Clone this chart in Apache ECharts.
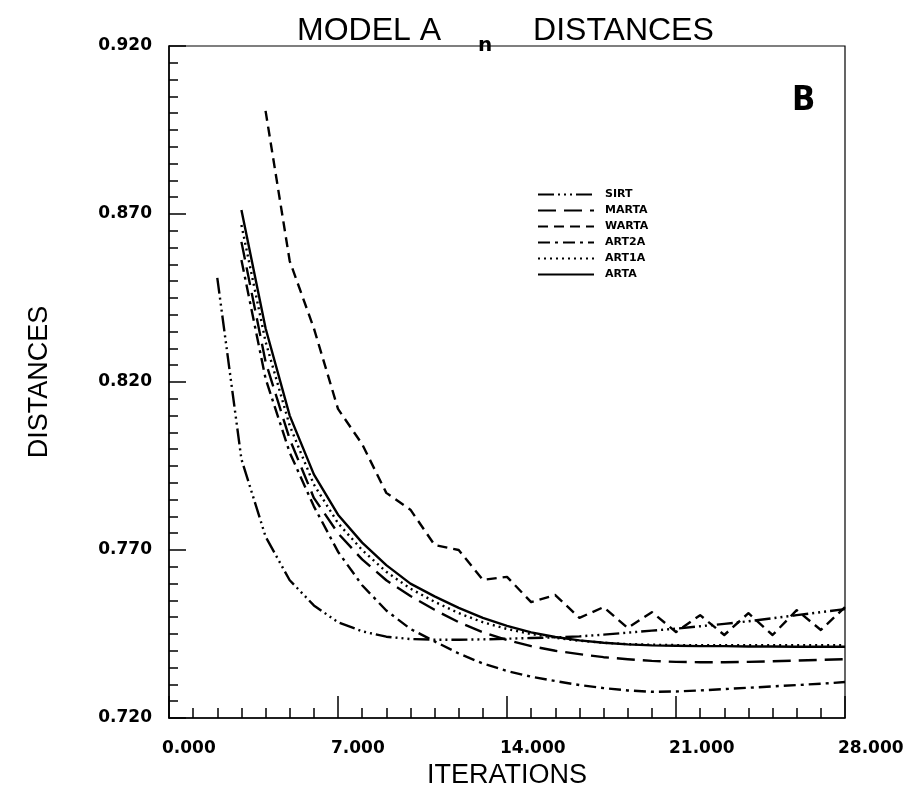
<!DOCTYPE html>
<html>
<head>
<meta charset="utf-8">
<script src="https://cdn.jsdelivr.net/npm/echarts@6/dist/echarts.min.js"></script>
<style>
html,body{margin:0;padding:0;background:#fff;}
#chart{width:907px;height:799px;}
</style>
</head>
<body>
<div id="chart"></div>
<script>
// ---- data ----
const seriesNames = ['SIRT', 'MARTA', 'WARTA', 'ART2A', 'ART1A', 'ARTA'];

const sirtIter = [2,3,4,5,6,7,8,9,10,11,12,13,14,15,16,17,18,19,20,21,22,23,24,25,26,27,28];
const sirtVals = [0.851,0.797,0.774,0.761,0.7535,0.7485,0.7458,0.7442,0.7435,0.7433,0.7433,0.7434,0.7436,0.7438,0.7440,0.7443,0.7448,0.7454,0.7460,0.7466,0.7473,0.7480,0.7488,0.7497,0.7506,0.7515,0.7524];

const artIter = [3,4,5,6,7,8,9,10,11,12,13,14,15,16,17,18,19,20,21,22,23,24,25,26,27,28];
const martaVals = [0.8617,0.826,0.803,0.7855,0.775,0.7672,0.7610,0.7563,0.7522,0.7485,0.7455,0.7432,0.7414,0.7400,0.7390,0.7381,0.7375,0.7370,0.7367,0.7366,0.7366,0.7367,0.7369,0.7371,0.7373,0.7375];
const art2aVals = [0.8563,0.821,0.799,0.783,0.7695,0.7595,0.7520,0.7465,0.7428,0.7392,0.7362,0.7340,0.7323,0.7310,0.7298,0.7289,0.7282,0.7278,0.7279,0.7282,0.7286,0.7290,0.7294,0.7298,0.7302,0.7307];
const art1aVals = [0.8667,0.832,0.807,0.7895,0.778,0.770,0.7635,0.7585,0.7546,0.7512,0.7485,0.7465,0.7450,0.7439,0.7430,0.7424,0.7420,0.7418,0.7417,0.7417,0.7417,0.7417,0.7417,0.7417,0.7417,0.7417];
const artaVals = [0.8712,0.836,0.810,0.7925,0.7805,0.7722,0.7655,0.7600,0.7562,0.7528,0.7498,0.7474,0.7455,0.7441,0.7431,0.7424,0.7419,0.7416,0.7415,0.7414,0.7414,0.7413,0.7413,0.7412,0.7412,0.7412];

const wartaIter = [4,5,6,7,8,9,10,11,12,13,14,15,16,17,18,19,20,21,22,23,24,25,26,27,28];
const wartaVals = [0.9007,0.856,0.836,0.812,0.8015,0.787,0.782,0.7715,0.770,0.7611,0.762,0.7545,0.7566,0.7498,0.753,0.7468,0.7515,0.7456,0.7506,0.7447,0.7512,0.7447,0.7521,0.7462,0.753];

function pairs(xs, ys) { return xs.map((x, i) => [x, ys[i]]); }

const chart = echarts.init(document.getElementById('chart'), null, {renderer: 'canvas'});

function lineSeries(name, xs, ys, dash) {
  return {
    name: name,
    type: 'line',
    data: pairs(xs, ys),
    symbol: 'none',
    smooth: false,
    lineStyle: {color: '#000', width: 2.4, type: dash, cap: 'butt', join: 'round'},
    itemStyle: {color: '#000'},
    z: 3
  };
}

const option = {
  backgroundColor: '#fff',
  animation: false,
  title: {
    text: 'MODEL A{g| }DISTANCES',
    left: 292,
    top: 10,
    textStyle: {
      fontFamily: 'Liberation Sans',
      fontWeight: 'normal',
      fontSize: 32,
      color: '#000',
      rich: {
        g: {fontFamily: 'Liberation Sans', fontSize: 32, width: 92}
      }
    }
  },
  legend: {
    orient: 'vertical',
    left: 532,
    top: 184,
    itemWidth: 56,
    itemHeight: 12,
    itemGap: 5,
    data: seriesNames,
    itemStyle: {opacity: 0},
    textStyle: {fontFamily: 'DejaVu Sans', fontWeight: 'bold', fontSize: 11, color: '#000', padding: [0, 0, 0, 6]},
    inactiveColor: '#000'
  },
  grid: {
    left: 169, right: 62, top: 46, bottom: 81,
    show: true, borderColor: '#000', borderWidth: 1.2
  },
  xAxis: {
    type: 'value',
    min: 0, max: 28, interval: 7,
    name: 'ITERATIONS',
    nameLocation: 'middle',
    nameGap: 44,
    nameTextStyle: {fontFamily: 'Liberation Sans', fontSize: 27, color: '#000'},
    axisLine: {onZero: false, lineStyle: {color: '#000', width: 1.5}},
    axisTick: {inside: true, length: 22, lineStyle: {color: '#000', width: 1.5}},
    minorTick: {show: true, splitNumber: 7, length: 10, lineStyle: {color: '#000', width: 1.5}},
    splitLine: {show: false},
    axisLabel: {
      color: '#000', fontFamily: 'DejaVu Sans', fontWeight: 'bold', fontSize: 17, margin: 22,
      align: 'left', padding: [0, 0, 0, -7],
      formatter: v => v.toFixed(3)
    }
  },
  yAxis: {
    type: 'value',
    min: 0.72, max: 0.92, interval: 0.05,
    name: 'DISTANCES',
    nameLocation: 'middle',
    nameGap: 116,
    nameRotate: 90,
    nameTextStyle: {fontFamily: 'Liberation Sans', fontSize: 27, color: '#000'},
    axisLine: {onZero: false, lineStyle: {color: '#000', width: 1.5}},
    axisTick: {inside: true, length: 17, lineStyle: {color: '#000', width: 1.5}},
    minorTick: {show: true, splitNumber: 10, length: 9, lineStyle: {color: '#000', width: 1.5}},
    splitLine: {show: false},
    axisLabel: {
      color: '#000', fontFamily: 'DejaVu Sans', fontWeight: 'bold', fontSize: 17, margin: 17,
      formatter: v => v.toFixed(3)
    }
  },
  graphic: [
    {
      type: 'text',
      left: 792, top: 84,
      style: {text: 'B', fontFamily: 'Liberation Sans Narrow, DejaVu Sans Condensed, Liberation Sans', fontWeight: 'bold', fontSize: 34, fill: '#000'}
    },
    {
      type: 'text',
      left: 478, top: 36,
      style: {text: 'n', fontFamily: 'DejaVu Sans', fontWeight: 'bold', fontSize: 20, fill: '#000'}
    }
  ],
  series: [
    lineSeries('SIRT', sirtIter, sirtVals, [16, 4, 2, 4, 2, 4, 2, 4]),
    lineSeries('MARTA', artIter, martaVals, [18, 8]),
    lineSeries('WARTA', wartaIter, wartaVals, [10, 6]),
    lineSeries('ART2A', artIter, art2aVals, [12, 5, 3, 5]),
    lineSeries('ART1A', artIter, art1aVals, [2, 4]),
    lineSeries('ARTA', artIter, artaVals, 'solid')
  ]
};

chart.setOption(option);
</script>
</body>
</html>
